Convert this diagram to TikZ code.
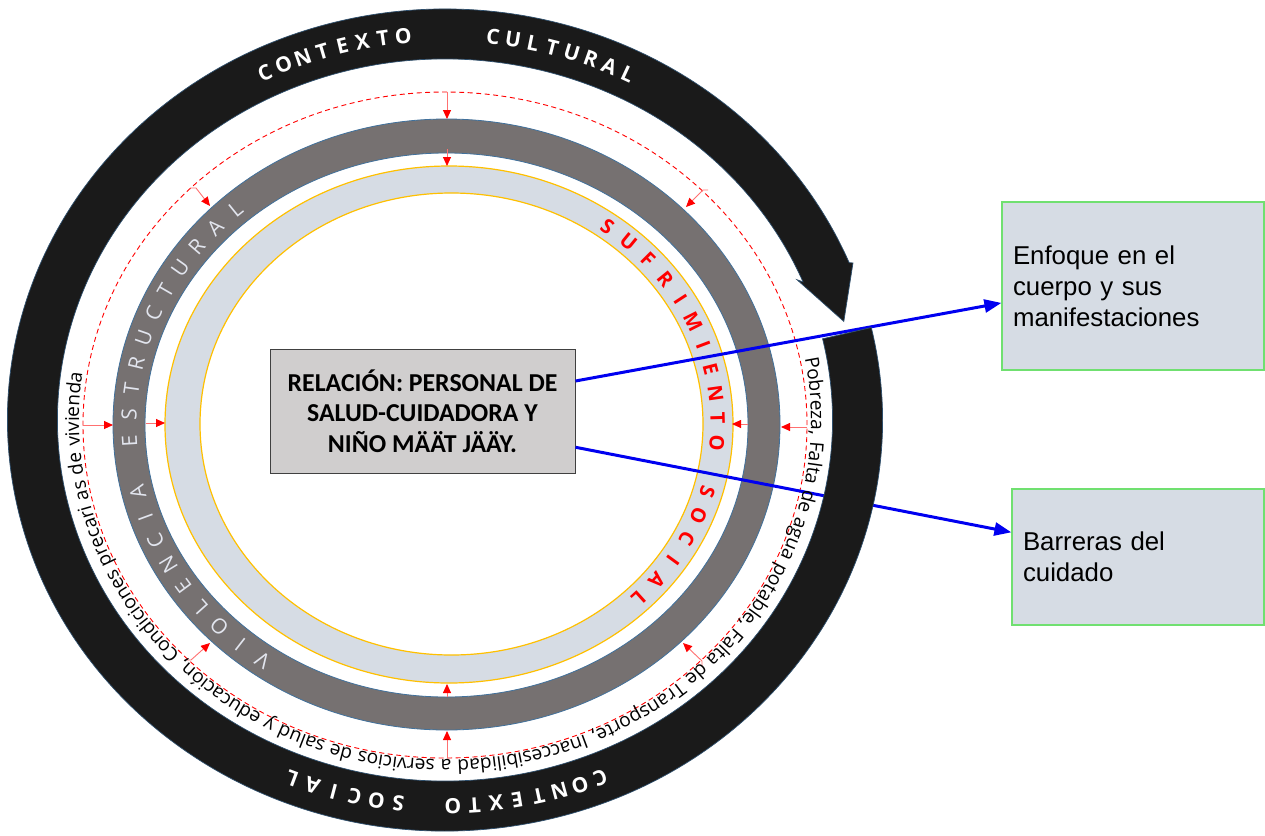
\documentclass[tikz,border=0pt]{standalone}
\usepackage{fontspec}
\usetikzlibrary{calc,arrows.meta,decorations.text}
\newfontfamily\opensans{Open Sans}
\newfontfamily\carlitofont{Carlito}
\newfontfamily\arialfont{Liberation Sans}
\definecolor{ringblack}{HTML}{1A1A1A}
\definecolor{ringedge}{HTML}{41719C}
\definecolor{ringgray}{HTML}{767171}
\definecolor{paleblue}{HTML}{D6DCE4}
\definecolor{goldline}{HTML}{FFC000}
\definecolor{boxgray}{HTML}{D0CECE}
\definecolor{boxedge}{HTML}{404040}
\definecolor{greenedge}{HTML}{70E070}
\definecolor{arrowblue}{HTML}{0000F0}
\definecolor{softred}{HTML}{FF7070}
\definecolor{lettergray}{HTML}{E2E5EE}
\newcommand\pobfont{\opensans\fontsize{19.1}{22}\selectfont}
% letters spread along an ellipse, clockwise, tops pointing outward
% #1 name prefix, #2 cx, #3 cy, #4 rx, #5 ry, #6 first angle, #7 step, #8 letters
\newcommand\ringletters[8]{%
  \foreach \rlch [count=\k from 0] in {#8} {%
    \pgfmathsetmacro\rlang{#6-\k*#7}%
    \pgfmathsetmacro\rlrot{atan2(#4*sin(\rlang),#5*cos(\rlang))-90}%
    \node[rotate=\rlrot] (#1-\k) at ({#2+#4*cos(\rlang)},{#3+#5*sin(\rlang)}) {\rlch};
  }}
\tikzset{
  redarrow/.style={softred, line width=0.9pt, -{Triangle[length=9pt,width=8pt,color=red]}},
  bluearrow/.style={arrowblue, line width=3pt, -{Triangle[length=17pt,width=13pt]}},
  sidebox/.style={draw=greenedge, fill=paleblue, line width=1.2pt, align=left,
    inner xsep=11pt, inner ysep=0pt, font=\arialfont\fontsize{25.8}{31}\selectfont},
  letterbase/.style={inner sep=0pt, text depth=0pt}
}
\begin{document}
\begin{tikzpicture}[x=1pt,y=1pt]
\useasboundingbox (0,0) rectangle (1265,-835);
\fill[white] (0,0) rectangle (1265,-835);
\coordinate (C) at (445,-420);

% pale inner ring with gold borders
\fill[paleblue, even odd rule] (449,-424.5) ellipse[x radius=284pt, y radius=258.5pt]
  (451.5,-424) ellipse[x radius=251.5pt, y radius=231pt];
\draw[goldline, line width=1.2pt] (449,-424.5) ellipse[x radius=284pt, y radius=258.5pt];
\draw[goldline, line width=1.2pt] (451.5,-424) ellipse[x radius=251.5pt, y radius=231pt];

% structural violence ring
\fill[ringgray, even odd rule] (446.5,-424.5) ellipse[x radius=333.5pt, y radius=305.5pt]
  (446.5,-425) ellipse[x radius=301.5pt, y radius=272pt];
\draw[ringedge, line width=0.8pt] (446.5,-424.5) ellipse[x radius=333.5pt, y radius=305.5pt];
\draw[ringedge, line width=0.8pt] (446.5,-425) ellipse[x radius=301.5pt, y radius=272pt];

% dashed boundary of the social conditions
\draw[red, line width=0.9pt, dash pattern=on 5pt off 3.5pt] (445,-425) ellipse[x radius=362pt, y radius=333pt];

% pressure arrows between the layers
\draw[redarrow] (447,-92) -- (447,-119);
\draw[redarrow] (447,-149) -- (447,-166);
\draw[redarrow] (83,-425) -- (113,-425);
\draw[redarrow] (146,-423) -- (165,-423);
\draw[redarrow] (807,-427) -- (781,-427);
\draw[redarrow] (748,-424) -- (732,-424);
\draw[redarrow] (447,-758) -- (447,-731);
\draw[redarrow] (447,-697) -- (447,-684);
\draw[redarrow] (190,-188) -- (196,-188) -- (210,-206);
\draw[redarrow] (708,-190) -- (703,-190) -- (686,-207);
\draw[redarrow] (187,-660) -- (191,-660) -- (210,-643);
\draw[redarrow] (702,-666) -- (702,-661) -- (683,-643);

% central relation
\node[draw=boxedge, fill=boxgray, line width=1pt, minimum width=305pt, minimum height=124pt,
  inner sep=0pt, align=center, font=\carlitofont\bfseries\fontsize{25.8}{30.5}\selectfont]
  (rel) at (422.5,-411) {RELACIÓN: PERSONAL DE\\SALUD-CUIDADORA Y\\NIÑO MÄÄT JÄÄY.};

% outcome boxes
\node[sidebox, minimum width=262pt, minimum height=168pt, text width=240pt]
  (enf) at (1133,-286) {Enfoque en el\\cuerpo y sus\\manifestaciones};
\node[sidebox, minimum width=252pt, minimum height=136pt, text width=230pt]
  (bar) at (1138,-557) {Barreras del\\cuidado};

\draw[bluearrow] ($(rel.north east)!0.26!(rel.south east)$) -- ($(enf.north west)!0.6!(enf.south west)$);
\draw[bluearrow] ($(rel.north east)!0.79!(rel.south east)$) -- ($(bar.north west)!0.32!(bar.south west)$);

% cultural / social context: thick ring ending in an arrow
\fill[ringblack, draw=ringedge!70!black, line width=0.7pt]
  ($(C)+(13:437.5pt and 411pt)$)
  arc[start angle=13, end angle=-337.5, x radius=437.5pt, y radius=411pt]
  -- ($(C)+(22.3:441pt and 414pt)$)
  -- ($(C)+(14.8:412.5pt and 386pt)$)
  -- ($(C)+(23.2:383pt and 356pt)$)
  -- ($(C)+(22.5:387.5pt and 361pt)$)
  arc[start angle=-337.5, end angle=13, x radius=387.5pt, y radius=361pt]
  -- cycle;

% social conditions text
\path[decorate, decoration={text along path, text align={fit to path stretching spaces},
  text={|\pobfont|Pobreza, Falta de agua potable, Falta de Transporte, Inaccesibilidad a servicios de salud y educación, Condiciones precari as de vivienda}}]
  ($(C)+(10.5:366pt and 340pt)$) arc[start angle=10.5, end angle=-188, x radius=366pt, y radius=340pt];

% ring titles
\begin{scope}[every node/.append style={letterbase, text height=15pt, text=white,
    font=\opensans\bfseries\fontsize{21}{21}\selectfont}]
  \ringletters{ctxa}{445}{-420}{412.5}{386}{115.9}{2.87}{C,O,N,T,E,X,T,O}
  \ringletters{ctxb}{445}{-420}{412.5}{386}{83.3}{2.8}{C,U,L,T,U,R,A,L}
  \ringletters{ctxc}{445}{-420}{412.5}{386}{-67.9}{3.0}{C,O,N,T,E,X,T,O}
  \ringletters{ctxd}{445}{-420}{412.5}{386}{-96.5}{3.06}{S,O,C,I,A,L}
\end{scope}
\begin{scope}[every node/.append style={letterbase, text height=15pt, text=lettergray,
    font=\opensans\fontsize{21}{21}\selectfont}]
  \ringletters{vio}{446.5}{-425}{317.5}{289}{234.6}{5.15}{V,I,O,L,E,N,C,I,A,,E,S,T,R,U,C,T,U,R,A,L}
\end{scope}
\begin{scope}[every node/.append style={letterbase, text height=14.3pt, text=red,
    font=\opensans\bfseries\fontsize{20}{20}\selectfont}]
  \ringletters{suf}{450}{-424.5}{267.75}{244.75}{54}{5.84}{S,U,F,R,I,M,I,E,N,T,O,,S,O,C,I,A,L}
\end{scope}
\end{tikzpicture}
\end{document}
